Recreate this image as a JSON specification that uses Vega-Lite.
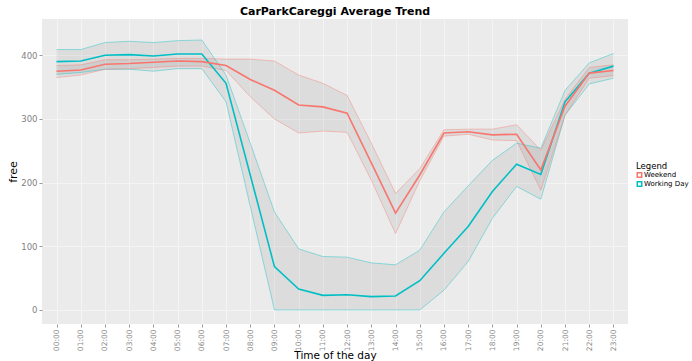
{
  "$schema": "https://vega.github.io/schema/vega-lite/v6.json",
  "width": 586,
  "height": 305,
  "autosize": {"type": "none"},
  "padding": {"left": 42, "top": 19, "right": 64, "bottom": 37},
  "background": "white",
  "title": {"text": "CarParkCareggi Average Trend", "font": "DejaVu Sans", "fontSize": 11, "fontWeight": "bold", "color": "black", "anchor": "middle", "offset": 2},
  "config": {
    "view": {"fill": "#EBEBEB", "stroke": null},
    "font": "DejaVu Sans"
  },
  "data": {"values": [
    {"hour": "00:00", "type": "Working Day", "mean": 390, "lo": 370, "hi": 409},
    {"hour": "01:00", "type": "Working Day", "mean": 391, "lo": 373, "hi": 409},
    {"hour": "02:00", "type": "Working Day", "mean": 400, "lo": 378, "hi": 420},
    {"hour": "03:00", "type": "Working Day", "mean": 401, "lo": 378, "hi": 422},
    {"hour": "04:00", "type": "Working Day", "mean": 399, "lo": 375, "hi": 420},
    {"hour": "05:00", "type": "Working Day", "mean": 402, "lo": 379, "hi": 423},
    {"hour": "06:00", "type": "Working Day", "mean": 402, "lo": 379, "hi": 424},
    {"hour": "07:00", "type": "Working Day", "mean": 356, "lo": 327, "hi": 369},
    {"hour": "08:00", "type": "Working Day", "mean": 212, "lo": 163, "hi": 262},
    {"hour": "09:00", "type": "Working Day", "mean": 68, "lo": 0, "hi": 154},
    {"hour": "10:00", "type": "Working Day", "mean": 33, "lo": 0, "hi": 96},
    {"hour": "11:00", "type": "Working Day", "mean": 23, "lo": 0, "hi": 84},
    {"hour": "12:00", "type": "Working Day", "mean": 24, "lo": 0, "hi": 83},
    {"hour": "13:00", "type": "Working Day", "mean": 21, "lo": 0, "hi": 74},
    {"hour": "14:00", "type": "Working Day", "mean": 22, "lo": 0, "hi": 71},
    {"hour": "15:00", "type": "Working Day", "mean": 46, "lo": 0, "hi": 94},
    {"hour": "16:00", "type": "Working Day", "mean": 89, "lo": 31, "hi": 154},
    {"hour": "17:00", "type": "Working Day", "mean": 131, "lo": 76, "hi": 195},
    {"hour": "18:00", "type": "Working Day", "mean": 186, "lo": 144, "hi": 235},
    {"hour": "19:00", "type": "Working Day", "mean": 229, "lo": 194, "hi": 262},
    {"hour": "20:00", "type": "Working Day", "mean": 213, "lo": 174, "hi": 254},
    {"hour": "21:00", "type": "Working Day", "mean": 327, "lo": 306, "hi": 345},
    {"hour": "22:00", "type": "Working Day", "mean": 372, "lo": 355, "hi": 388},
    {"hour": "23:00", "type": "Working Day", "mean": 383, "lo": 364, "hi": 403},
    {"hour": "00:00", "type": "Weekend", "mean": 375, "lo": 365, "hi": 384},
    {"hour": "01:00", "type": "Weekend", "mean": 377, "lo": 369, "hi": 385},
    {"hour": "02:00", "type": "Weekend", "mean": 386, "lo": 378, "hi": 393},
    {"hour": "03:00", "type": "Weekend", "mean": 387, "lo": 379, "hi": 393},
    {"hour": "04:00", "type": "Weekend", "mean": 389, "lo": 381, "hi": 394},
    {"hour": "05:00", "type": "Weekend", "mean": 391, "lo": 383, "hi": 395},
    {"hour": "06:00", "type": "Weekend", "mean": 390, "lo": 383, "hi": 395},
    {"hour": "07:00", "type": "Weekend", "mean": 384, "lo": 376, "hi": 394},
    {"hour": "08:00", "type": "Weekend", "mean": 362, "lo": 335, "hi": 394},
    {"hour": "09:00", "type": "Weekend", "mean": 345, "lo": 300, "hi": 391},
    {"hour": "10:00", "type": "Weekend", "mean": 322, "lo": 278, "hi": 369},
    {"hour": "11:00", "type": "Weekend", "mean": 319, "lo": 281, "hi": 356},
    {"hour": "12:00", "type": "Weekend", "mean": 309, "lo": 279, "hi": 337},
    {"hour": "13:00", "type": "Weekend", "mean": 231, "lo": 204, "hi": 262},
    {"hour": "14:00", "type": "Weekend", "mean": 152, "lo": 120, "hi": 183},
    {"hour": "15:00", "type": "Weekend", "mean": 212, "lo": 203, "hi": 222},
    {"hour": "16:00", "type": "Weekend", "mean": 278, "lo": 273, "hi": 283},
    {"hour": "17:00", "type": "Weekend", "mean": 280, "lo": 276, "hi": 284},
    {"hour": "18:00", "type": "Weekend", "mean": 275, "lo": 267, "hi": 284},
    {"hour": "19:00", "type": "Weekend", "mean": 276, "lo": 266, "hi": 291},
    {"hour": "20:00", "type": "Weekend", "mean": 220, "lo": 188, "hi": 251},
    {"hour": "21:00", "type": "Weekend", "mean": 320, "lo": 306, "hi": 331},
    {"hour": "22:00", "type": "Weekend", "mean": 372, "lo": 364, "hi": 381},
    {"hour": "23:00", "type": "Weekend", "mean": 376, "lo": 368, "hi": 385}
  ]},
  "encoding": {
    "x": {
      "field": "hour", "type": "ordinal",
      "scale": {"type": "point", "padding": 0.6},
      "axis": {
        "title": "Time of the day", "titleFontSize": 10.5, "titleFontWeight": "normal", "titleColor": "black", "titlePadding": 0,
        "labelAngle": -90, "labelFontSize": 7.5, "labelColor": "#8A8A8A", "labelPadding": 2,
        "tickSize": 3, "tickColor": "#999999", "domain": false,
        "grid": true, "gridColor": "#F4F4F4", "gridWidth": 1
      }
    },
    "color": {
      "field": "type", "type": "nominal",
      "scale": {"domain": ["Weekend", "Working Day"], "range": ["#F8766D", "#00BFC4"]},
      "legend": {
        "title": "Legend", "orient": "none", "legendX": 594, "legendY": 143,
        "titleFontSize": 8.5, "titleFontWeight": "normal", "titleColor": "black", "titlePadding": 1,
        "labelFontSize": 7, "labelColor": "black", "labelOffset": 1,
        "symbolType": "square", "symbolSize": 20, "symbolStrokeWidth": 1.5, "symbolOpacity": 1,
        "rowPadding": -2
      }
    }
  },
  "layer": [
    {
      "mark": {"type": "area", "fill": "#333333", "fillOpacity": 0.08, "strokeWidth": 0},
      "encoding": {
        "y": {"field": "lo", "type": "quantitative"},
        "y2": {"field": "hi"},
        "detail": {"field": "type"},
        "color": null
      }
    },
    {
      "mark": {"type": "line", "strokeWidth": 1, "opacity": 0.4},
      "encoding": {
        "y": {"field": "lo", "type": "quantitative"}
      }
    },
    {
      "mark": {"type": "line", "strokeWidth": 1, "opacity": 0.4},
      "encoding": {
        "y": {"field": "hi", "type": "quantitative"}
      }
    },
    {
      "mark": {"type": "line", "strokeWidth": 1.6},
      "encoding": {
        "y": {
          "field": "mean", "type": "quantitative",
          "scale": {"domain": [-22, 457], "nice": false, "zero": false},
          "axis": {
            "title": "free", "titleFontSize": 11, "titleFontWeight": "normal", "titleColor": "black", "titlePadding": 2,
            "values": [0, 50, 100, 150, 200, 250, 300, 350, 400, 450],
            "labelExpr": "datum.value % 100 === 0 ? datum.label : ''",
            "labelFontSize": 8.5, "labelColor": "#7F7F7F", "labelPadding": 2,
            "tickSize": 3, "tickColor": "#999999",
            "tickOpacity": {"condition": {"test": "datum.value % 100 === 0", "value": 1}, "value": 0},
            "domain": false, "grid": true, "gridColor": "#F4F4F4",
            "gridWidth": {"condition": {"test": "datum.value % 100 === 0", "value": 1}, "value": 0.5}
          }
        }
      }
    }
  ]
}
